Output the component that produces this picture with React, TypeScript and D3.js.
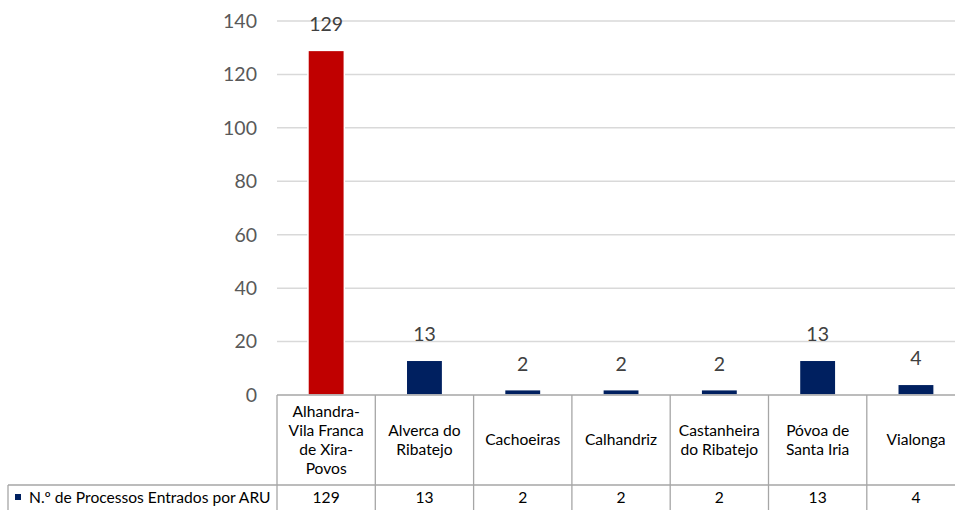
import React from "react";
import * as d3 from "d3";

const categories = [
  "Alhandra-Vila Franca de Xira-Povos",
  "Alverca do Ribatejo",
  "Cachoeiras",
  "Calhandriz",
  "Castanheira do Ribatejo",
  "Póvoa de Santa Iria",
  "Vialonga",
];
// how the names wrap in the data table header
const categoryLines = [
  ["Alhandra-", "Vila Franca", "de Xira-", "Povos"],
  ["Alverca do", "Ribatejo"],
  ["Cachoeiras"],
  ["Calhandriz"],
  ["Castanheira", "do Ribatejo"],
  ["Póvoa de", "Santa Iria"],
  ["Vialonga"],
];
const values = [129, 13, 2, 2, 2, 13, 4];
const seriesName = "N.º de Processos Entrados por ARU";
const yTicks = [0, 20, 40, 60, 80, 100, 120, 140];

const layout = {
  width: 955,
  height: 510,
  plotLeft: 277,
  colWidth: 98.3,
  plotTop: 21,
  plotBottom: 395,
  tableMid: 485,
  tableLeft: 8,
};

const font = "Lato, 'Open Sans', sans-serif";
const navy = "#002060";
const red = "#C00000";
const lineGray = "#A6A6A6";

export default function App() {
  const x = d3
    .scaleBand<string>()
    .domain(categories)
    .range([layout.plotLeft, layout.plotLeft + layout.colWidth * categories.length])
    .padding(0);

  const y = d3
    .scaleLinear()
    .domain([0, 140])
    .range([layout.plotBottom, layout.plotTop]);

  const barW = x.bandwidth() * 0.37;
  const right = layout.plotLeft + layout.colWidth * categories.length;

  return (
    <div style={{ position: "absolute", left: 0, top: 0 }}>
      <svg width={layout.width} height={layout.height} style={{ display: "block", background: "#fff" }}>
        {/* gridlines */}
        {yTicks.slice(1).map((t) => (
          <line
            key={"g" + t}
            x1={layout.plotLeft}
            x2={right}
            y1={y(t)}
            y2={y(t)}
            stroke="#D9D9D9"
            strokeWidth={1.5}
          />
        ))}

        {/* y axis labels */}
        {yTicks.map((t) => (
          <text
            key={"t" + t}
            x={257}
            y={y(t)}
            dy="0.35em"
            textAnchor="end"
            fontFamily={font}
            fontSize={19.5}
            fill="#595959"
          >
            {t}
          </text>
        ))}

        {/* bars */}
        {categories.map((c, i) => (
          <rect
            key={"b" + c}
            x={x(c)! + (x.bandwidth() - barW) / 2}
            y={y(values[i])}
            width={barW}
            height={y(0) - y(values[i])}
            fill={i === 0 ? red : navy}
            stroke="#fff"
            strokeWidth={1.5}
          />
        ))}

        {/* data labels */}
        {categories.map((c, i) => (
          <text
            key={"l" + c}
            x={x(c)! + x.bandwidth() / 2}
            y={y(values[i]) - 19}
            textAnchor="middle"
            fontFamily={font}
            fontSize={19.5}
            fill="#404040"
          >
            {values[i]}
          </text>
        ))}

        {/* data table */}
        <g stroke={lineGray} strokeWidth={1.3} fill="none">
          <line x1={layout.plotLeft} x2={right} y1={layout.plotBottom} y2={layout.plotBottom} />
          <line x1={layout.tableLeft} x2={right} y1={layout.tableMid} y2={layout.tableMid} />
          <line x1={layout.tableLeft} x2={layout.tableLeft} y1={layout.tableMid} y2={layout.height} />
          {categories.map((c) => (
            <line key={"v" + c} x1={x(c)!} x2={x(c)!} y1={layout.plotBottom} y2={layout.height} />
          ))}
          <line x1={right} x2={right} y1={layout.plotBottom} y2={layout.height} />
        </g>

        {categories.map((c, i) => {
          const lines = categoryLines[i];
          const mid = (layout.plotBottom + layout.tableMid) / 2;
          const lh = 19.2;
          const y0 = mid - ((lines.length - 1) * lh) / 2;
          return (
            <text
              key={"h" + c}
              textAnchor="middle"
              fontFamily={font}
              fontSize={15.6}
              fill="#000"
            >
              {lines.map((ln, j) => (
                <tspan key={j} x={x(c)! + x.bandwidth() / 2} y={y0 + j * lh} dy="0.35em">
                  {ln}
                </tspan>
              ))}
            </text>
          );
        })}

        {/* legend key + series name */}
        <rect x={15} y={494} width={6} height={6} fill={navy} />
        <text x={29} y={503} fontFamily={font} fontSize={15.6} fill="#000">
          {seriesName}
        </text>
        {categories.map((c, i) => (
          <text
            key={"v" + c}
            x={x(c)! + x.bandwidth() / 2}
            y={503}
            textAnchor="middle"
            fontFamily={font}
            fontSize={15.6}
            fill="#000"
          >
            {values[i]}
          </text>
        ))}
      </svg>
    </div>
  );
}
